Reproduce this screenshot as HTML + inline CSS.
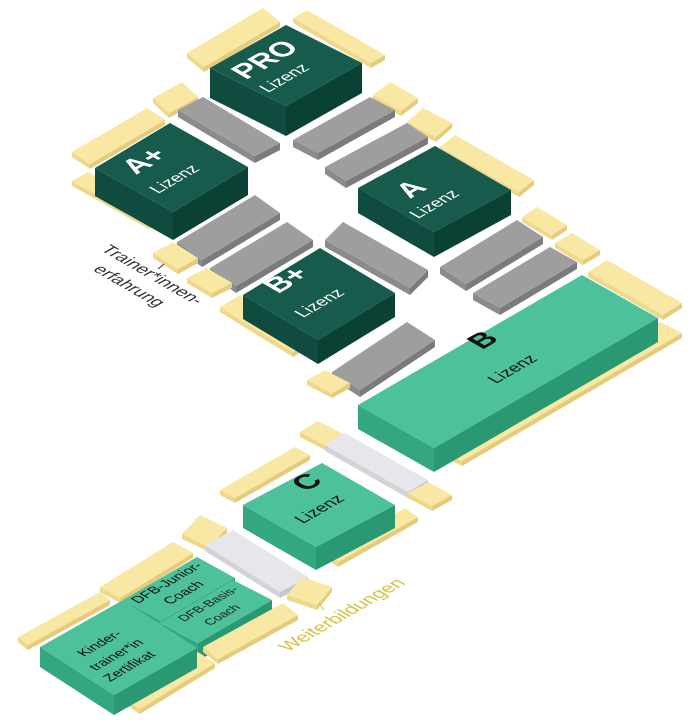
<!DOCTYPE html>
<html><head><meta charset="utf-8"><style>
html,body{margin:0;padding:0;background:#fff;}
svg{display:block}
text{font-family:"Liberation Sans",sans-serif}
</style></head><body>
<svg id="s" width="698" height="728" viewBox="0 0 698 728" xmlns="http://www.w3.org/2000/svg"></svg>
<script>
const C={
 d:['#175b4c','#0f4b3e','#0b4034'],
 g:['#4dc19b','#34a781','#2a9872'],
 k:['#9e9e9e','#8b8b8b','#7b7b7b'],
 l:['#e7e7eb','#d3d3d8','#c6c6cc'],
 y:['#f9e8a3','#eed88c','#e4cc7c']
};
const items=[
 ['d',[210,68],[286,25],[362,63],30],
 ['d',[95,168],[170,123],[248,167],28],
 ['d',[358,188],[435,146],[511,190],25],
 ['d',[243,295],[320,248],[395,293],24],
 ['g',[358,405],[582,275],[658,318],24],
 ['g',[243,505],[322,463],[395,505],23],
 ['g',[40,647],[123,600],[197,648],20],
 ['g',[123,600],[197,557],[235,578],20],
 ['g',[159,623],[233,580],[272,600],18],
 ['l',[325,445],[345,433],[428,480],6],
 ['l',[205,545],[233,530],[308,577],6],
 ['k',[178,110],[203,97],[280,143],7],
 ['k',[293,140],[370,97],[395,110],7],
 ['k',[325,167],[407,123],[428,137],7],
 ['k',[177,242],[255,195],[280,213],7],
 ['k',[210,268],[287,222],[313,240],7],
 ['k',[325,240],[343,222],[428,270],7],
 ['k',[332,372],[407,322],[435,340],7],
 ['k',[440,267],[517,220],[543,237],7],
 ['k',[473,293],[550,247],[577,262],7],
 ['y',[187,53],[263,8],[280,22],5],
 ['y',[293,18],[307,10],[385,55],5],
 ['y',[153,98],[182,82],[198,97],5],
 ['y',[373,95],[390,82],[418,98],5],
 ['y',[407,122],[423,108],[452,123],5],
 ['y',[440,147],[455,135],[534,180],5],
 ['y',[522,217],[537,207],[567,225],5],
 ['y',[555,243],[572,233],[600,250],5],
 ['y',[588,272],[607,260],[682,303],5],
 ['y',[440,450],[660,322],[682,333],5],
 ['y',[307,380],[325,370],[350,383],5],
 ['y',[220,307],[240,295],[313,340],5],
 ['y',[153,253],[173,242],[198,258],5],
 ['y',[187,278],[207,268],[232,283],5],
 ['y',[72,152],[147,108],[165,120],5],
 ['y',[72,181],[88,172],[165,215],5],
 ['y',[220,490],[295,447],[310,455],5],
 ['y',[300,432],[318,421],[345,435],5],
 ['y',[408,493],[428,482],[452,495],5],
 ['y',[325,553],[405,508],[418,517],5],
 ['y',[182,534],[200,515],[227,528],5],
 ['y',[287,595],[302,577],[332,587],5],
 ['y',[100,587],[173,542],[193,553],5],
 ['y',[18,637],[100,592],[110,600],5],
 ['y',[203,647],[283,603],[298,615],5],
 ['y',[123,698],[198,652],[215,663],5]
];
const NS='http://www.w3.org/2000/svg';
const s=document.getElementById('s');
function poly(pts,fill){const p=document.createElementNS(NS,'polygon');p.setAttribute('points',pts.map(q=>q.join(',')).join(' '));p.setAttribute('fill',fill);s.appendChild(p);}
items.map(it=>{const [c,L,T,R,h]=it;const B=[L[0]+R[0]-T[0],L[1]+R[1]-T[1]];return {c,L,T,R,B,h,k:B[1]+h};})
 .sort((a,b)=>a.k-b.k).forEach(o=>{
  const {c,L,T,R,B,h}=o;const col=C[c];
  const d=p=>[p[0],p[1]+h];
  poly([L,B,d(B),d(L)],col[1]);
  poly([B,R,d(R),d(B)],col[2]);
  poly([L,T,R,B],col[0]);
 });
function txt(str,x,y,size,fill,weight,m){
 const t=document.createElementNS(NS,'text');
 t.setAttribute('transform',`matrix(${m.join(',')},${x},${y})`);
 t.setAttribute('font-size',size);t.setAttribute('fill',fill);
 if(weight)t.setAttribute('font-weight',weight);
 t.textContent=str;s.appendChild(t);
}
const TOP=[0.866,-0.5,0.866,0.5];
const DWN=[0.866,0.5,-0.866,0.5];
txt('PRO',246,80,29,'#fff','bold',TOP);
txt('Lizenz',268,93,17,'#fff','',TOP);
txt('A+',136,175,29,'#fff','bold',TOP);
txt('Lizenz',158,194,17,'#fff','',TOP);
txt('A',410,199,29,'#fff','bold',TOP);
txt('Lizenz',418,219,17,'#fff','',TOP);
txt('B+',278,294,29,'#fff','bold',TOP);
txt('Lizenz',303,318,17,'#fff','',TOP);
txt('B',482,350,29,'#111','bold',TOP);
txt('Lizenz',496,384,17,'#111','',TOP);
txt('C',306,492,29,'#111','bold',TOP);
txt('Lizenz',303,524,17,'#111','',TOP);
txt('Kinder-',84,657,14,'#111','',TOP);
txt('trainer*in',96,671,14,'#111','',TOP);
txt('Zertifikat',110,682,14,'#111','',TOP);
txt('DFB-Junior-',138,604,14,'#111','',TOP);
txt('Coach',170,605,14,'#111','',TOP);
txt('DFB-Basis-',184,622,12.5,'#222','',TOP);
txt('Coach',210,626,12.5,'#222','',TOP);
txt('Weiterbildungen',288,652,19,'#d6c23c','',TOP);
txt('Trainer*innen-',100,250,17.5,'#333','',DWN);
txt('erfahrung',92,270,17.5,'#333','',DWN);
const l1=document.createElementNS(NS,'line');l1.setAttribute('x1',158);l1.setAttribute('y1',269);l1.setAttribute('x2',164);l1.setAttribute('y2',264);l1.setAttribute('stroke','#333');s.appendChild(l1);
const l2=document.createElementNS(NS,'line');l2.setAttribute('x1',319);l2.setAttribute('y1',603);l2.setAttribute('x2',324);l2.setAttribute('y2',610);l2.setAttribute('stroke','#d6c23c');s.appendChild(l2);
</script>
</body></html>
